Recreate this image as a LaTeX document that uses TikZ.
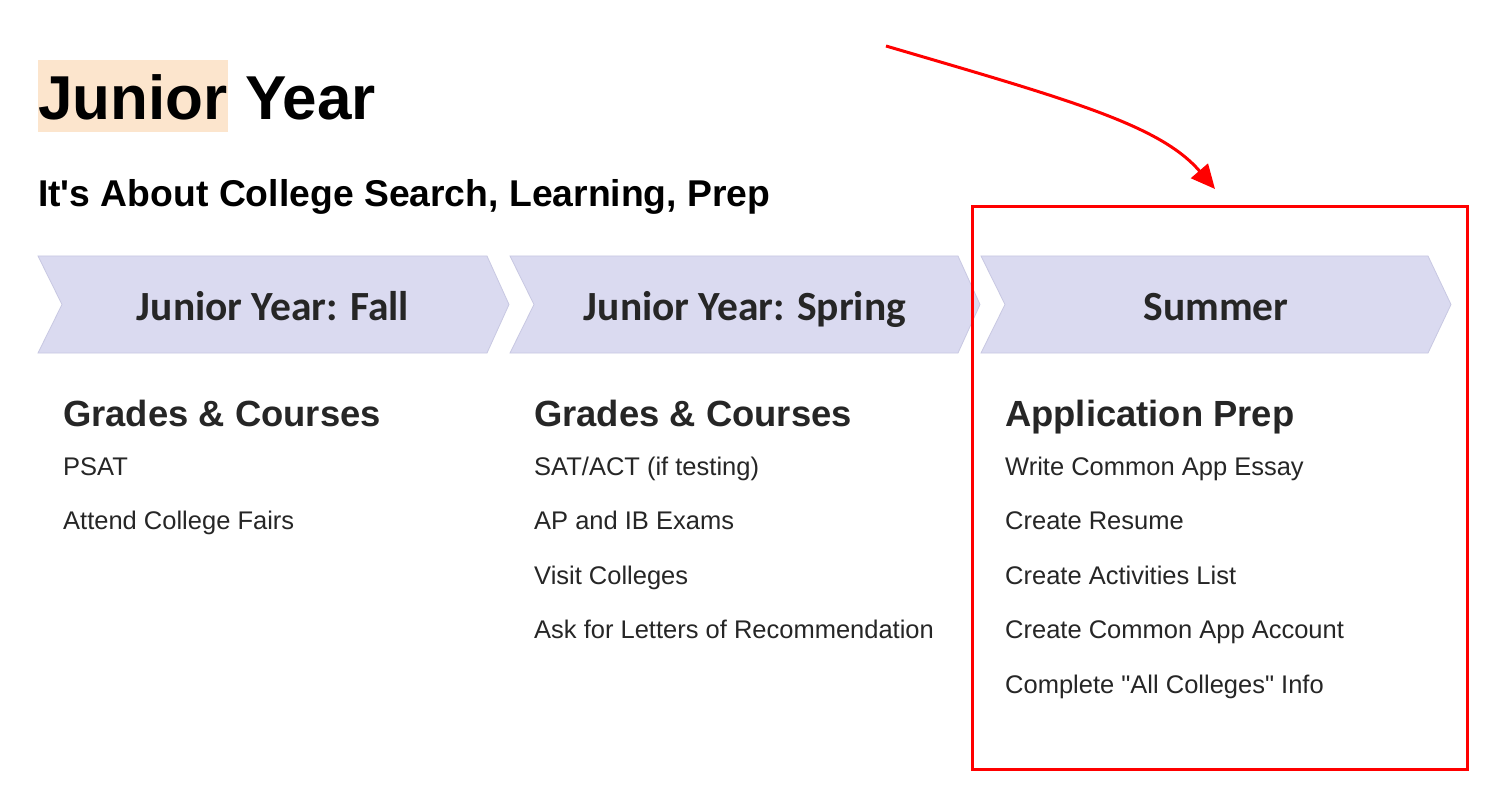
\documentclass[tikz,border=0pt]{standalone}
\usepackage{fontspec}
\setmainfont{Liberation Sans}[Ligatures=TeXOff]
\newfontfamily\chevfont{Carlito}
\usetikzlibrary{arrows.meta}
\definecolor{peach}{HTML}{FCE5CD}
\definecolor{chevfill}{HTML}{DADAF0}
\definecolor{chevline}{HTML}{C8C8E2}
\definecolor{txt}{HTML}{262626}
\definecolor{redline}{HTML}{FF0000}
\tikzset{
  chev/.style={fill=chevfill, draw=chevline, line width=0.8pt, line join=miter},
  chevtext/.style={anchor=base, text=txt, inner sep=0pt, font=\chevfont\bfseries\fontsize{41.5}{46}\selectfont},
  heading/.style={anchor=base west, text=txt, inner sep=0pt, font=\bfseries\fontsize{36.4}{40}\selectfont},
  item/.style={anchor=base west, text=txt, inner sep=0pt, font=\fontsize{25.5}{30}\selectfont},
}
\begin{document}
\begin{tikzpicture}[x=1pt,y=-1pt]
\useasboundingbox[fill=white] (0,0) rectangle (1494,802);
% title
\node[fill=peach, anchor=base west, inner xsep=0pt, inner ysep=0pt, text height=60pt, text depth=12pt,
      font=\bfseries\fontsize{62}{70}\selectfont] (t1) at (38,120) {Junior};
\node[anchor=base west, inner sep=0pt, font=\bfseries\fontsize{62}{70}\selectfont] (t2) at ([xshift=17pt]t1.base east) {Year};
\node[anchor=base west, inner sep=0pt, font=\bfseries\fontsize{37.3}{42}\selectfont] (sub) at (38,207) {It's About College Search, Learning, Prep};
% chevrons
\draw[chev] (38,256) -- (487,256) -- (509,304.5) -- (487,353) -- (38,353) -- (62,304.5) -- cycle;
\draw[chev] (510,256) -- (958,256) -- (980,304.5) -- (958,353) -- (510,353) -- (534,304.5) -- cycle;
\draw[chev] (981,256) -- (1428,256) -- (1451,304.5) -- (1428,353) -- (981,353) -- (1005,304.5) -- cycle;
\node[chevtext] (c1) at (273,321) {Junior Year: Fall};
\node[chevtext] (c2) at (745,321) {Junior Year: Spring};
\node[chevtext] (c3) at (1216,321) {Summer};
% column 1
\node[heading] (h1) at (63,426) {Grades \& Courses};
\node[item] (a1) at (63,475) {PSAT};
\node[item] (a2) at (63,529.5) {Attend College Fairs};
% column 2
\node[heading] (h2) at (534,426) {Grades \& Courses};
\node[item] (b1) at (534,475) {SAT/ACT (if testing)};
\node[item] (b2) at (534,529.5) {AP and IB Exams};
\node[item] (b3) at (534,584) {Visit Colleges};
\node[item] (b4) at (534,638.5) {Ask for Letters of Recommendation};
% column 3
\node[heading] (h3) at (1005,426) {Application Prep};
\node[item] (d1) at (1005,475) {Write Common App Essay};
\node[item] (d2) at (1005,529.5) {Create Resume};
\node[item] (d3) at (1005,584) {Create Activities List};
\node[item] (d4) at (1005,638.5) {Create Common App Account};
\node[item] (d5) at (1005,693) {Complete "All Colleges" Info};
% red highlight box
\node[draw=redline, line width=3pt, inner sep=0pt, minimum width=495pt, minimum height=563pt, anchor=north west] (box) at (971,205) {};
% red arrow
\coordinate (as) at (886,46);
\coordinate (ae) at (1215,189);
\draw[redline, line width=3pt, -{Triangle[length=24pt,width=22pt]}] (as) .. controls (1070,100) and (1160,125) .. (ae);
\end{tikzpicture}
\end{document}
